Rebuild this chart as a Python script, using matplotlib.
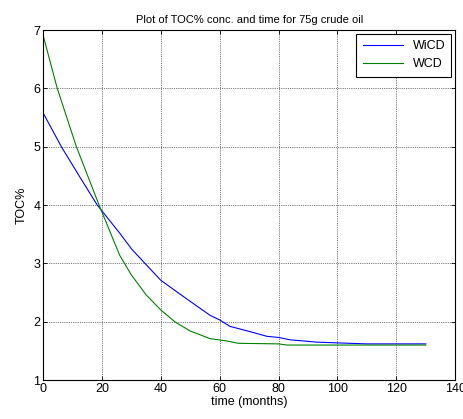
import numpy as np
import matplotlib.pyplot as plt

plt.rcParams['font.family'] = ['Liberation Sans', 'DejaVu Sans']

# WiCD curve (months, TOC%)
wicd_t = [0, 6.2, 12, 18.4, 26, 30, 34.6, 40, 47.7, 56.7, 60, 63.5, 70.3, 76, 80, 83.9, 93, 104, 110, 130]
wicd_toc = [5.58, 5.0, 4.52, 4.0, 3.52, 3.25, 3.0, 2.71, 2.43, 2.11, 2.03, 1.92, 1.83, 1.75,
            1.73, 1.69, 1.65, 1.63, 1.62, 1.62]

# WCD curve
wcd_t = [0, 4.8, 11.3, 19, 26, 30, 35, 40, 45, 50, 56.7, 62.4, 66.3, 80, 82.8, 130]
wcd_toc = [6.91, 6.0, 5.0, 4.0, 3.14, 2.80, 2.46, 2.20, 1.99, 1.84, 1.71, 1.67, 1.63,
           1.62, 1.60, 1.60]

fig = plt.figure(figsize=(4.64, 4.19), dpi=100)
ax = fig.add_axes([0.093, 0.093, 0.888, 0.835])

ax.plot(wicd_t, wicd_toc, color='#0000ff', lw=0.8, label='WiCD')
ax.plot(wcd_t, wcd_toc, color='#008000', lw=0.8, label='WCD')

ax.set_xlim(0, 140)
ax.set_ylim(1, 7)
ax.set_xticks(np.arange(0, 141, 20))
ax.set_yticks(np.arange(1, 8, 1))
ax.tick_params(direction='in', top=True, right=True, labelsize=9, length=3, width=0.6, pad=2)
ax.grid(True, color='black', linestyle=':', linewidth=0.5)
for s in ax.spines.values():
    s.set_linewidth(0.8)

ax.set_title('Plot of TOC% conc. and time for 75g crude oil', fontsize=8, pad=5)
ax.set_xlabel('time (months)', fontsize=9, labelpad=1)
ax.set_ylabel('TOC%', fontsize=9, labelpad=4)

leg = ax.legend(loc='upper right', fontsize=9, fancybox=False, framealpha=1,
                edgecolor='black', borderaxespad=0.3, handlelength=3.2,
                labelspacing=0.5, borderpad=0.5)
leg.get_frame().set_linewidth(0.8)

fig.savefig('out.png', dpi=100)
